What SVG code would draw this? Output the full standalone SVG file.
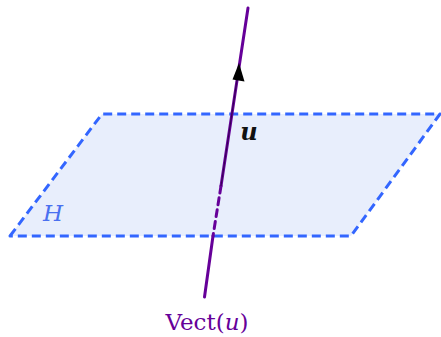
<svg xmlns="http://www.w3.org/2000/svg" width="441" height="337" viewBox="0 0 441 337">
<style>
.plane{fill:#e8eefc;stroke:#3366ff;stroke-width:3;stroke-dasharray:9 5;stroke-linejoin:round}
.line{stroke:#660099;stroke-width:3;fill:none;stroke-linecap:round}
.lbl{font-family:"DejaVu Serif","Liberation Serif",serif}
</style>
<g id="plane">
<polygon class="plane" points="10,236 102,114 440,114 351,236"/>
<text class="lbl" x="53" y="221" font-size="23" font-style="italic" fill="#4a70f0" text-anchor="middle">H</text>
</g>
<g id="connectors">
<line class="line" x1="248" y1="8" x2="221" y2="186"/>
<line class="line" x1="221" y1="186" x2="213" y2="236" stroke-dasharray="7 5" stroke-linecap="butt"/>
<line class="line" x1="213" y1="236" x2="204.5" y2="297"/>
<line x1="221" y1="186" x2="237" y2="80" stroke="#000" stroke-width="0.8" opacity="0.6"/>
<polygon points="239,63 232.5,79.5 244.5,81.5" fill="#000"/>
</g>
<g id="labels">
<text class="lbl" x="249" y="140" font-size="24" font-style="italic" font-weight="bold" fill="#111" text-anchor="middle">u</text>
<text class="lbl" x="207" y="330" font-size="23" fill="#660099" text-anchor="middle">Vect(<tspan font-style="italic">u</tspan>)</text>
</g>
</svg>
